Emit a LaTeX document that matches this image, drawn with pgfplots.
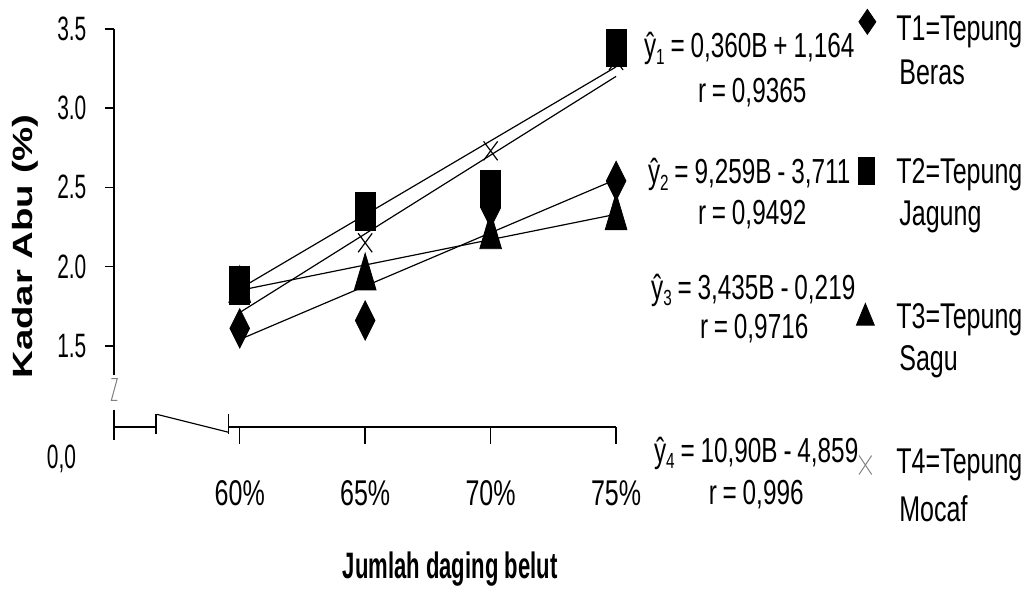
\documentclass[border=0pt]{standalone}
\usepackage{fontspec}
\setmainfont{Liberation Sans}[FakeStretch=0.7]
\newfontfamily\tickfont{Liberation Sans}[FakeStretch=0.62]
\newfontfamily\ylabfont{Liberation Sans}[FakeStretch=1.38]
\newfontfamily\xlabfont{Liberation Sans}[FakeStretch=0.6]
\usepackage{pgfplots}
\pgfplotsset{compat=1.18}
\newcommand{\eqf}{\fontsize{17.5}{17.5}\selectfont}
\newcommand{\nmf}{\fontsize{18}{18}\selectfont}
\newcommand{\sub}[1]{\raisebox{-0.35ex}{\fontsize{11}{11}\selectfont #1}}
\begin{document}
\begin{tikzpicture}
\begin{axis}[
  scale only axis, width=252.5pt, height=200.5pt,
  xmin=-1, xmax=3, ymin=0.986, ymax=3.5,
  clip=false,
  axis lines*=left, axis line style={draw=none},
  xtick={0,1,2,3}, xticklabels={60\%,65\%,70\%,75\%},
  xtick style={draw=none},
  xticklabel style={font=\fontsize{18}{18}\selectfont, yshift=-19pt},
  ytick={1.5,2,2.5,3,3.5}, yticklabels={1.5,2.0,2.5,3.0,3.5},
  yticklabel style={font=\tickfont\fontsize{17}{17}\selectfont, xshift=-6pt},
  tick align=outside, major tick length=4.5pt,
  ytick style={black, line width=0.8pt},
]
\coordinate (SW) at (axis cs:-1,0.986);
% trend lines
\addplot[black, line width=0.6pt] coordinates {(0,1.54) (3,2.55)};
\addplot[black, line width=0.6pt] coordinates {(0,1.86) (3,3.26)};
\addplot[black, line width=0.6pt] coordinates {(0,1.85) (3,2.33)};
\addplot[black, line width=0.6pt] coordinates {(0,1.71) (3,3.20)};
% T4 Tepung Mocaf
\addplot[only marks, mark=x, mark size=5pt, mark options={black, line width=0.6pt, yscale=1.35}] coordinates {(0,1.82) (1,2.15) (2,2.73) (3,3.30)};
% T3 Tepung Sagu
\addplot[only marks, mark=triangle*, mark size=6.3pt, mark options={black, yscale=1.95}] coordinates {(0,1.85) (1,1.93) (2,2.19) (3,2.31)};
% T1 Tepung Beras
\addplot[only marks, mark=diamond*, mark size=6.6pt, mark options={black, yscale=1.5}] coordinates {(0,1.61) (1,1.66) (2,2.37) (3,2.54)};
% T2 Tepung Jagung
\addplot[only marks, mark=square*, mark size=5pt, mark options={black, yscale=1.9}] coordinates {(0,1.88) (1,2.35) (2,2.49) (3,3.38)};
% legend markers
\addplot[only marks, mark=diamond*, mark size=5.7pt, mark options={black, yscale=1.1}] coordinates {(5.003,3.544)};
\addplot[only marks, mark=square*, mark size=4.25pt, mark options={black, yscale=1.6}] coordinates {(4.995,2.603)};
\addplot[only marks, mark=triangle*, mark size=5.2pt, mark options={black, yscale=1.4}] coordinates {(4.987,1.676)};
\addplot[only marks, mark=x, mark size=4.5pt, mark options={gray, line width=0.5pt, yscale=1.5}] coordinates {(4.987,0.748)};
\end{axis}
\begin{scope}[shift={(SW)}, x=0.5pt, y=0.5pt]
\begin{scope}[shift={(-115,-158)}]
\path (0,0) rectangle (1029,588);
% axis lines with break
\draw[line width=1pt] (115,559) -- (115,211);
\draw[gray, line width=0.5pt] (112,207) -- (118,207) -- (112,185) -- (118,185);
\draw[line width=1pt] (115,175) -- (115,145);
\draw[line width=1pt] (115,158) -- (157,158);
\draw[line width=0.8pt] (157,171) -- (157,151);
\draw[line width=0.6pt] (158,171) -- (230,153);
\draw[line width=0.8pt] (230,171) -- (230,151);
\draw[line width=1pt] (230,158) -- (620,158);
\foreach \px in {241,367.3,493.7,620} {\draw[line width=0.8pt] (\px,158) -- (\px,141);}
\node[anchor=base east, inner sep=0pt, font=\tickfont\fontsize{17}{17}\selectfont] at (77,117) {0,0};
% axis titles
\node[rotate=90, anchor=center, font=\ylabfont\bfseries\fontsize{14}{14}\selectfont] at (25,340) {Kadar Abu (\%)};
\node[anchor=base, font=\xlabfont\bfseries\fontsize{18.5}{18.5}\selectfont] at (453,6) {Jumlah daging belut};
% equations
\node[anchor=base, font=\eqf] at (754,530) {ŷ\sub{1}\,=\,0,360B\,+\,1,164};
\node[anchor=base, font=\eqf] at (757,485) {r\,=\,0,9365};
\node[anchor=base, font=\eqf] at (754,403) {ŷ\sub{2}\,=\,9,259B\,-\,3,711};
\node[anchor=base, font=\eqf] at (757,362) {r\,=\,0,9492};
\node[anchor=base, font=\eqf] at (758,287) {ŷ\sub{3}\,=\,3,435B\,-\,0,219};
\node[anchor=base, font=\eqf] at (759,247) {r\,=\,0,9716};
\node[anchor=base, font=\eqf] at (761,123) {ŷ\sub{4}\,=\,10,90B\,-\,4,859};
\node[anchor=base, font=\eqf] at (761,80) {r\,=\,0,996};
% legend names
\node[anchor=base west, font=\nmf] at (895,547) {T1=Tepung};
\node[anchor=base west, font=\nmf] at (898,503) {Beras};
\node[anchor=base west, font=\nmf] at (895,403) {T2=Tepung};
\node[anchor=base west, font=\nmf] at (898,361) {Jagung};
\node[anchor=base west, font=\nmf] at (895,257) {T3=Tepung};
\node[anchor=base west, font=\nmf] at (898,215) {Sagu};
\node[anchor=base west, font=\nmf] at (895,112) {T4=Tepung};
\node[anchor=base west, font=\nmf] at (898,63) {Mocaf};
\end{scope}
\end{scope}
\end{tikzpicture}
\end{document}
